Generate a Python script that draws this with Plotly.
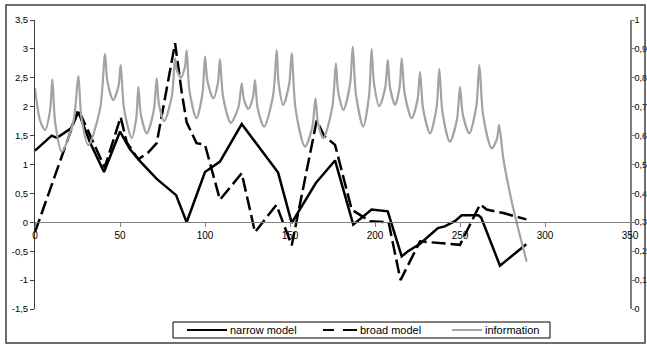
import plotly.graph_objects as go

# ---- series: narrow model (left axis) ----
narrow_x = [0, 9.8, 12.9, 21, 25.5, 32.4, 40.6, 50, 56, 62, 71.6, 83, 89.2, 100,
            108.8, 121.6, 143, 151, 165.2, 176.5, 187.2, 198, 207.5, 215.7, 219.4,
            226.5, 237, 241, 247, 251, 260.8, 262.5, 273.5, 289]
narrow_y = [1.24, 1.50, 1.46, 1.62, 1.91, 1.38, 0.87, 1.57, 1.26, 1.05, 0.75, 0.47,
            0.0, 0.87, 1.05, 1.70, 0.86, -0.01, 0.68, 1.07, -0.04, 0.22, 0.19, -0.59,
            -0.50, -0.37, -0.10, -0.07, 0.02, 0.12, 0.12, 0.08, -0.75, -0.38]

# ---- series: broad model (left axis) ----
broad_x = [0, 25.5, 41, 50.4, 54, 60.8, 66.7, 71.6, 82.4, 86.3, 89.2, 95, 100,
           108.8, 121.6, 129.4, 142, 151, 165.7, 170, 176.5, 186.3, 197, 208, 215,
           226.5, 250, 261.8, 265.7, 275.5, 289]
broad_y = [-0.17, 1.95, 0.95, 1.82, 1.38, 1.09, 1.21, 1.37, 3.10, 2.25, 1.73, 1.37,
           1.34, 0.39, 0.85, -0.17, 0.30, -0.40, 1.76, 1.50, 1.34, 0.22, 0.02, 0.0,
           -1.0, -0.33, -0.39, 0.31, 0.22, 0.16, 0.05]

# ---- series: information (right axis) ----
info_x = [0, 2.9, 5.9, 8.9, 10.2, 11.9, 15.7, 22.6, 25.5, 27.3, 31.4, 38.3, 41.2,
          42.6, 46, 49.1, 50.4, 52.4, 56.9, 59.6, 60.8, 62.3, 65.7, 69.8, 71.6, 72.9,
          76, 80.5, 82.4, 83.4, 85.8, 88.2, 89.2, 90.9, 95, 98.5, 100, 101.5, 104.9,
          107.6, 108.8, 110.7, 115.2, 119.7, 121.6, 122.8, 125.5, 128.2, 129.4, 131.0,
          134.8, 140.0, 142.2, 143.3, 146, 149.5, 151, 153.3, 158.8, 163.1, 165, 166.4,
          169.6, 174.8, 177, 178.3, 181.4, 185.3, 186.9, 188.8, 193.1, 196.5, 198,
          199.4, 202.5, 206.0, 207.5, 208.8, 211.8, 214.5, 215.7, 217.5, 221.6, 225.0,
          226.5, 228.3, 232.4, 236.2, 237.8, 239.7, 244, 248.2, 250, 251.7, 255.5,
          259.6, 261.4, 263.6, 268.6, 271.7, 273, 275.5, 279.4, 283.3, 289.2]
info_y = [0.764, 0.654, 0.619, 0.689, 0.795, 0.644, 0.544, 0.649, 0.806, 0.663, 0.567,
          0.693, 0.882, 0.787, 0.723, 0.771, 0.844, 0.692, 0.591, 0.662, 0.769, 0.672,
          0.608, 0.684, 0.798, 0.709, 0.650, 0.737, 0.867, 0.827, 0.800, 0.838, 0.895,
          0.754, 0.660, 0.745, 0.873, 0.787, 0.729, 0.783, 0.864, 0.732, 0.644, 0.699,
          0.781, 0.728, 0.692, 0.732, 0.792, 0.695, 0.631, 0.737, 0.896, 0.782, 0.706,
          0.778, 0.885, 0.691, 0.562, 0.629, 0.729, 0.646, 0.591, 0.695, 0.850, 0.753,
          0.689, 0.777, 0.908, 0.742, 0.631, 0.738, 0.899, 0.781, 0.702, 0.766, 0.862,
          0.768, 0.706, 0.770, 0.867, 0.743, 0.660, 0.724, 0.821, 0.693, 0.608, 0.697,
          0.831, 0.680, 0.579, 0.655, 0.769, 0.672, 0.608, 0.702, 0.844, 0.671, 0.556,
          0.588, 0.637, 0.520, 0.400, 0.300, 0.164]

# ---- axis ticks and labels ----
x_ticks = [0, 50, 100, 150, 200, 250, 300, 350]
x_labels = ["0", "50", "100", "150", "200", "250", "300", "350"]
left_ticks = [-1.5, -1, -0.5, 0, 0.5, 1, 1.5, 2, 2.5, 3, 3.5]
left_labels = ["-1,5", "-1", "-0,5", "0", "0,5", "1", "1,5", "2", "2,5", "3", "3,5"]
right_ticks = [0, 0.1, 0.2, 0.3, 0.4, 0.5, 0.6, 0.7, 0.8, 0.9, 1]
right_labels = ["0", "0,1", "0,2", "0,3", "0,4", "0,5", "0,6", "0,7", "0,8", "0,9", "1"]

series_names = ["narrow model", "broad model", "information"]

FONT = "Liberation Sans, Arial, sans-serif"
INFO_GREY = "#a3a3a3"

# plot area in pixels: x 35..630, y 20..309
W, H = 647, 347
L, R, T, B = 35, 17, 20, 38
PW, PH = W - L - R, H - T - B


def px_x(p):
    return (p - L) / PW


def px_y(p):
    return (H - B - p) / PH


fig = go.Figure()
fig.add_trace(go.Scatter(x=narrow_x, y=narrow_y, mode="lines", name=series_names[0],
                         line=dict(color="black", width=2.5)))
fig.add_trace(go.Scatter(x=broad_x, y=broad_y, mode="lines", name=series_names[1],
                         line=dict(color="black", width=2.5, dash="14px,5px")))
fig.add_trace(go.Scatter(x=info_x, y=info_y, mode="lines", name=series_names[2],
                         yaxis="y2",
                         line=dict(color=INFO_GREY, width=2.2, shape="spline",
                                   smoothing=0.8)))

# hand-built legend box below the plot
leg_y = px_y(330)
shapes = [
    # outer chart border
    dict(type="rect", xref="paper", yref="paper",
         x0=px_x(6), x1=px_x(645), y0=px_y(343), y1=px_y(5),
         line=dict(color="#404040", width=1.5)),
    # legend frame
    dict(type="rect", xref="paper", yref="paper",
         x0=px_x(173), x1=px_x(550), y0=px_y(338), y1=px_y(322),
         line=dict(color="black", width=1), fillcolor="white"),
    # legend samples
    dict(type="line", xref="paper", yref="paper", x0=px_x(187), x1=px_x(227),
         y0=leg_y, y1=leg_y, line=dict(color="black", width=2)),
    dict(type="line", xref="paper", yref="paper", x0=px_x(323), x1=px_x(334),
         y0=leg_y, y1=leg_y, line=dict(color="black", width=2)),
    dict(type="line", xref="paper", yref="paper", x0=px_x(343), x1=px_x(357),
         y0=leg_y, y1=leg_y, line=dict(color="black", width=2)),
    dict(type="line", xref="paper", yref="paper", x0=px_x(452), x1=px_x(482),
         y0=leg_y, y1=leg_y, line=dict(color=INFO_GREY, width=2)),
]
annotations = [
    dict(text=series_names[0], x=px_x(228), y=leg_y),
    dict(text=series_names[1], x=px_x(358), y=leg_y),
    dict(text=series_names[2], x=px_x(483), y=leg_y),
]
for a in annotations:
    a.update(xref="paper", yref="paper", xanchor="left", yanchor="middle",
             showarrow=False, font=dict(size=11, color="black", family=FONT))

fig.update_layout(
    width=W, height=H,
    margin=dict(l=L, r=R, t=T, b=B),
    paper_bgcolor="white", plot_bgcolor="white",
    font=dict(family=FONT, size=10, color="black"),
    showlegend=False,
    xaxis=dict(range=[0, 350], tickvals=x_ticks, ticktext=x_labels,
               anchor="free", position=0.3, showline=True, linecolor="#808080",
               linewidth=1, ticks="outside", ticklen=4, tickcolor="#808080",
               showgrid=False, zeroline=False, automargin=False),
    yaxis=dict(range=[-1.5, 3.5], tickvals=left_ticks, ticktext=left_labels,
               showline=True, linecolor="#404040", linewidth=1, ticks="outside",
               ticklen=4, tickcolor="#404040", showgrid=False, zeroline=False,
               automargin=False, tickfont=dict(size=9.5)),
    yaxis2=dict(range=[0, 1], tickvals=right_ticks, ticktext=right_labels,
                overlaying="y", side="right", showline=True, linecolor="#808080",
                linewidth=1.5, ticks="outside", ticklen=3, tickcolor="#808080",
                showgrid=False, zeroline=False, automargin=False,
                ticklabelstandoff=-2, tickfont=dict(size=9)),
    shapes=shapes,
    annotations=annotations,
)

fig.write_html("out.html")
